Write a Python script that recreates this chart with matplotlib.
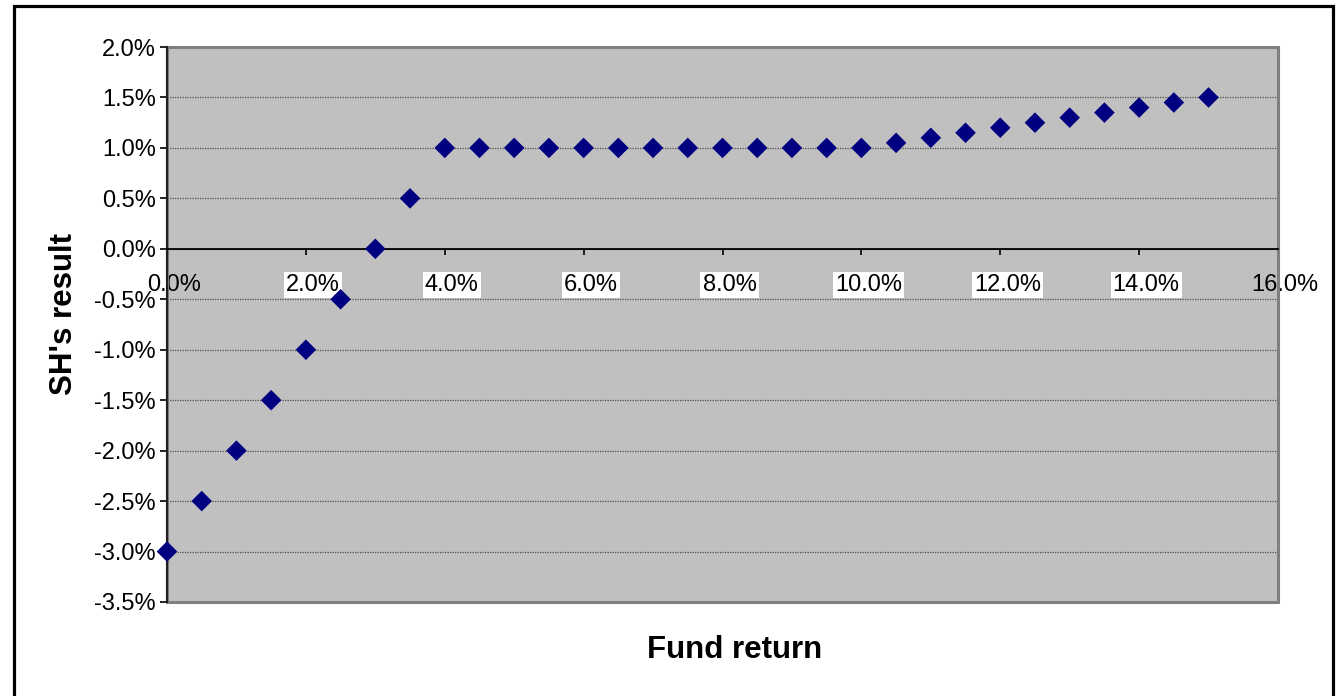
import matplotlib
matplotlib.use("Agg")
import matplotlib.pyplot as plt
from matplotlib.patches import Rectangle
from matplotlib.ticker import PercentFormatter, MultipleLocator
from matplotlib.transforms import ScaledTranslation

# Fund return (%) and the shareholder's resulting return (%)
fund_return = [0.0, 0.5, 1.0, 1.5, 2.0, 2.5, 3.0, 3.5, 4.0, 4.5, 5.0, 5.5, 6.0,
               6.5, 7.0, 7.5, 8.0, 8.5, 9.0, 9.5, 10.0, 10.5, 11.0, 11.5, 12.0,
               12.5, 13.0, 13.5, 14.0, 14.5, 15.0]
sh_result = [-3.0, -2.5, -2.0, -1.5, -1.0, -0.5, 0.0, 0.5, 1.0, 1.0, 1.0, 1.0,
             1.0, 1.0, 1.0, 1.0, 1.0, 1.0, 1.0, 1.0, 1.0, 1.05, 1.1, 1.15, 1.2,
             1.25, 1.3, 1.35, 1.4, 1.45, 1.5]

x_label = "Fund return"
y_label = "SH's result"

plt.rcParams['font.family'] = ['Liberation Sans', 'DejaVu Sans']
plt.rcParams['axes.unicode_minus'] = False

W, H = 1337, 696
fig = plt.figure(figsize=(W / 100, H / 100), dpi=100)
fig.patch.set_facecolor('white')

# Outer chart frame
fig.patches.append(Rectangle((14 / W, -0.02), (1333 - 14) / W, 1.02 - 6 / H,
                             transform=fig.transFigure, fill=False,
                             edgecolor='black', linewidth=2.3, zorder=0))

ax = fig.add_axes([167 / W, 1 - 602 / H, (1278 - 167) / W, (602 - 47) / H])
ax.set_facecolor('#C0C0C0')

ax.set_xlim(0, 16)
ax.set_ylim(-3.5, 2.0)
ax.xaxis.set_major_locator(MultipleLocator(2))
ax.yaxis.set_major_locator(MultipleLocator(0.5))
ax.xaxis.set_major_formatter(PercentFormatter(decimals=1))
ax.yaxis.set_major_formatter(PercentFormatter(decimals=1))

# Dotted horizontal gridlines
ax.grid(axis='y', color='#505050', linestyle=(0, (1, 1)), linewidth=0.9)
ax.set_axisbelow(True)

# Plot-area border
for side in ('top', 'right'):
    ax.spines[side].set_visible(False)
ax.add_patch(Rectangle((0, 0), 1, 1, transform=ax.transAxes, fill=False,
                       edgecolor='#808080', linewidth=2.2, zorder=1, clip_on=False))

ax.spines['left'].set_color('#202020')
ax.spines['left'].set_linewidth(1.5)
ax.spines['left'].set_zorder(2)
ax.spines['bottom'].set_position(('data', 0))
ax.spines['bottom'].set_color('black')
ax.spines['bottom'].set_linewidth(1.3)

ax.tick_params(axis='y', direction='out', length=5, width=1.2, pad=3,
               labelsize=17, colors='black')
ax.tick_params(axis='x', direction='out', length=4, width=1.2, pad=14,
               labelsize=17, colors='black')

ax.scatter(fund_return, sh_result, marker='D', s=110, color='#000080',
           edgecolors='none', zorder=5, clip_on=False)

fig.canvas.draw()
shift = ScaledTranslation(7 / 100, 0, fig.dpi_scale_trans)
for lbl in ax.xaxis.get_majorticklabels():
    lbl.set_transform(lbl.get_transform() + shift)
    txt = lbl.get_text()
    if txt not in ('0.0%', '16.0%', ''):
        lbl.set_bbox(dict(facecolor='white', edgecolor='none', pad=1.5))

fig.text(735 / W, 1 - 650 / H, x_label, ha='center', va='center',
         fontsize=22.5, fontweight='bold')
fig.text(64 / W, 1 - 314 / H, y_label, ha='center', va='center',
         rotation=90, fontsize=22.5, fontweight='bold')

fig.savefig('out.png', dpi=100)
